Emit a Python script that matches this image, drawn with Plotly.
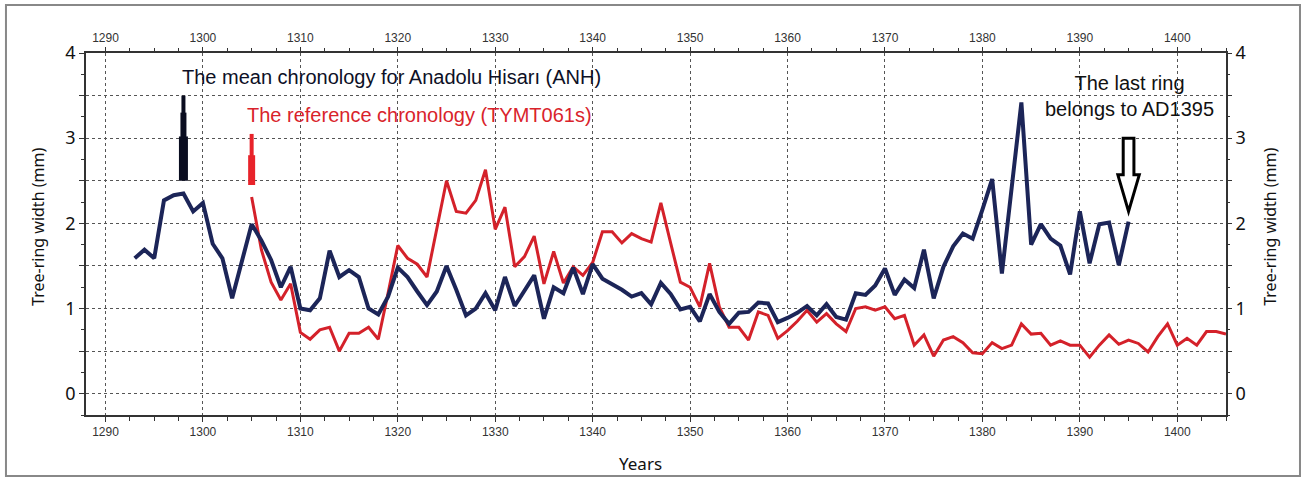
import plotly.graph_objects as go

# ---- data ----
anh_start = 1293
anh_values = [
    1.59, 1.69, 1.59, 2.27, 2.33, 2.35, 2.14, 2.24, 1.76, 1.59,   # 1293-1302
    1.12, 1.57, 1.99, 1.80, 1.57, 1.25, 1.49, 1.00, 0.98, 1.12,   # 1303-1312
    1.68, 1.37, 1.45, 1.37, 1.00, 0.93, 1.14, 1.48, 1.37, 1.20,   # 1313-1322
    1.04, 1.20, 1.50, 1.22, 0.92, 1.00, 1.18, 0.98, 1.37, 1.03,   # 1323-1332
    1.20, 1.39, 0.88, 1.25, 1.18, 1.48, 1.17, 1.52, 1.35, 1.29,   # 1333-1342
    1.22, 1.14, 1.18, 1.05, 1.30, 1.17, 0.99, 1.02, 0.85, 1.17,   # 1343-1352
    0.96, 0.82, 0.95, 0.96, 1.07, 1.06, 0.84, 0.89, 0.95, 1.03,   # 1353-1362
    0.92, 1.05, 0.90, 0.87, 1.18, 1.16, 1.27, 1.47, 1.16, 1.34,   # 1363-1372
    1.24, 1.69, 1.12, 1.49, 1.73, 1.88, 1.82, 2.16, 2.52, 1.41,   # 1373-1382
    2.41, 3.42, 1.75, 1.99, 1.82, 1.74, 1.40, 2.14, 1.53, 1.99,   # 1383-1392
    2.01, 1.51, 2.02,                                             # 1393-1395
]
ref_start = 1305
ref_values = [
    2.31, 1.69, 1.31, 1.10, 1.29, 0.72, 0.64, 0.75, 0.78, 0.50,   # 1305-1314
    0.71, 0.71, 0.78, 0.64, 1.18, 1.74, 1.59, 1.52, 1.37, 1.92,   # 1315-1324
    2.50, 2.14, 2.12, 2.27, 2.63, 1.93, 2.19, 1.49, 1.61, 1.85,   # 1325-1334
    1.29, 1.67, 1.30, 1.49, 1.39, 1.54, 1.90, 1.90, 1.77, 1.88,   # 1335-1344
    1.82, 1.78, 2.24, 1.77, 1.31, 1.25, 1.02, 1.53, 1.02, 0.78,   # 1345-1354
    0.78, 0.63, 0.96, 0.92, 0.65, 0.74, 0.85, 0.98, 0.84, 0.94,   # 1355-1364
    0.82, 0.73, 1.00, 1.02, 0.98, 1.02, 0.88, 0.92, 0.57, 0.69,   # 1365-1374
    0.44, 0.63, 0.67, 0.60, 0.48, 0.47, 0.60, 0.53, 0.57, 0.82,   # 1375-1384
    0.70, 0.71, 0.57, 0.62, 0.57, 0.57, 0.43, 0.57, 0.69, 0.58,   # 1385-1394
    0.63, 0.59, 0.49, 0.67, 0.82, 0.57, 0.65, 0.57, 0.73, 0.73,   # 1395-1404
    0.70,                                                         # 1405
]
anh_years = list(range(anh_start, anh_start + len(anh_values)))
ref_years = list(range(ref_start, ref_start + len(ref_values)))

x_ticks = list(range(1290, 1401, 10))
y_grid = [0, 0.5, 1, 1.5, 2, 2.5, 3, 3.5, 4]
y_text = ["0", "", "1", "", "2", "", "3", "", "4"]

NAVY = "#1c2558"
RED = "#d4212a"
GRID = "#555555"

fig = go.Figure()
fig.add_trace(go.Scatter(x=ref_years, y=ref_values, mode="lines",
                         line=dict(color=RED, width=3), showlegend=False,
                         name="TYMT061s"))
fig.add_trace(go.Scatter(x=anh_years, y=anh_values, mode="lines",
                         line=dict(color=NAVY, width=4), showlegend=False,
                         name="ANH"))
# helper trace so top / right axes render
fig.add_trace(go.Scatter(x=[None], y=[None], xaxis="x2", yaxis="y2",
                         showlegend=False, hoverinfo="skip"))

XR = [1288, 1405]
YR = [-0.25, 4]
tickfont_x = dict(family="Liberation Sans", size=12, color="#333333")
tickfont_y = dict(family="Noto Sans", size=18, color="#111111")

fig.update_layout(
    width=1306, height=481,
    margin=dict(l=86, r=80, t=53, b=66),
    paper_bgcolor="white", plot_bgcolor="white",
    xaxis=dict(range=XR, tickmode="array", tickvals=x_ticks,
               ticks="outside", ticklen=5, tickcolor="#333",
               tickfont=tickfont_x, showgrid=True, gridcolor=GRID,
               griddash="dot", gridwidth=1, zeroline=False,
               showline=True, linecolor="#333", linewidth=1.5, mirror=True,
               minor=dict(dtick=2.5, tick0=1290, ticks="outside", ticklen=4,
                          tickcolor="#333", showgrid=False)),
    xaxis2=dict(range=XR, overlaying="x", side="top", anchor="y",
                tickmode="array", tickvals=x_ticks, ticks="outside",
                ticklen=5, tickcolor="#333", tickfont=tickfont_x,
                showgrid=False, zeroline=False, showline=False,
                minor=dict(dtick=2.5, tick0=1290, ticks="outside", ticklen=4,
                           tickcolor="#333", showgrid=False)),
    yaxis=dict(range=YR, tickmode="array", tickvals=y_grid, ticktext=y_text,
               ticks="outside", ticklen=5, tickcolor="#333",
               tickfont=tickfont_y, showgrid=True, gridcolor=GRID,
               griddash="dot", gridwidth=1, zeroline=False,
               showline=True, linecolor="#333", linewidth=1.5, mirror=True,
               minor=dict(dtick=0.25, tick0=0, ticks="outside", ticklen=3,
                          tickcolor="#333", showgrid=False)),
    yaxis2=dict(range=YR, overlaying="y", side="right", anchor="x",
                tickmode="array", tickvals=y_grid, ticktext=y_text,
                ticks="outside", ticklen=5, tickcolor="#333",
                tickfont=tickfont_y, showgrid=False, zeroline=False,
                showline=False,
                minor=dict(dtick=0.25, tick0=0, ticks="outside", ticklen=3,
                           tickcolor="#333", showgrid=False)),
)

ann_font = dict(family="Liberation Sans", size=20)
fig.add_annotation(x=1297.6, y=3.72, xref="x", yref="y", xanchor="left",
                   yanchor="middle", showarrow=False,
                   text="The mean chronology for Anadolu Hisarı (ANH)",
                   font=dict(color="#0d1026", **ann_font))
fig.add_annotation(x=1304.3, y=3.27, xref="x", yref="y", xanchor="left",
                   yanchor="middle", showarrow=False,
                   text="The reference chronology (TYMT061s)",
                   font=dict(color="#d9232b", **ann_font))
fig.add_annotation(x=1395.1, y=3.5, xref="x", yref="y", xanchor="center",
                   yanchor="middle", showarrow=False,
                   text="The last ring<br>belongs to AD1395",
                   font=dict(color="#111111", **ann_font))
# axis titles
fig.add_annotation(x=0.486, y=-0.133, xref="paper", yref="paper",
                   xanchor="center", yanchor="middle", showarrow=False,
                   text="Years", font=dict(family="Noto Sans", size=17,
                                           color="#111"))
fig.add_annotation(x=-0.042, y=0.52, xref="paper", yref="paper",
                   xanchor="center", yanchor="middle", showarrow=False,
                   textangle=-90, text="Tree-ring width (mm)",
                   font=dict(family="Noto Sans", size=16, color="#111"))
fig.add_annotation(x=1.0386, y=0.52, xref="paper", yref="paper",
                   xanchor="center", yanchor="middle", showarrow=False,
                   textangle=-90, text="Tree-ring width (mm)",
                   font=dict(family="Noto Sans", size=16, color="#111"))

# marker arrows (decorations)
def bar(x, y0, y1, color, width):
    fig.add_shape(type="line", xref="x", yref="y", x0=x, x1=x, y0=y0, y1=y1,
                  line=dict(color=color, width=width))

bar(1298, 2.5, 3.02, "#0a0d20", 9)
bar(1298, 3.0, 3.3, "#0a0d20", 6)
bar(1298, 3.28, 3.5, "#0a0d20", 4)
bar(1305, 2.45, 2.8, "#e8232a", 7)
bar(1305, 2.78, 3.05, "#e8232a", 4)

# hollow arrow pointing at the last ring
fig.add_shape(type="path", xref="x", yref="y",
              path=("M 1394.45 3.0 L 1395.55 3.0 L 1395.55 2.57 L 1396.1 2.57 "
                    "L 1395.0 2.14 L 1393.9 2.57 L 1394.45 2.57 Z"),
              fillcolor="white", line=dict(color="black", width=3))

# outer frame
fig.add_shape(type="rect", xref="paper", yref="paper",
              x0=-0.0702, x1=1.0649, y0=-0.1685, y1=1.1326,
              line=dict(color="#888888", width=2), fillcolor="rgba(0,0,0,0)")

fig.write_html("out.html",
               config={"displayModeBar": False},
               post_script="document.body.style.margin='0';"
                           "document.body.style.overflow='hidden';")
